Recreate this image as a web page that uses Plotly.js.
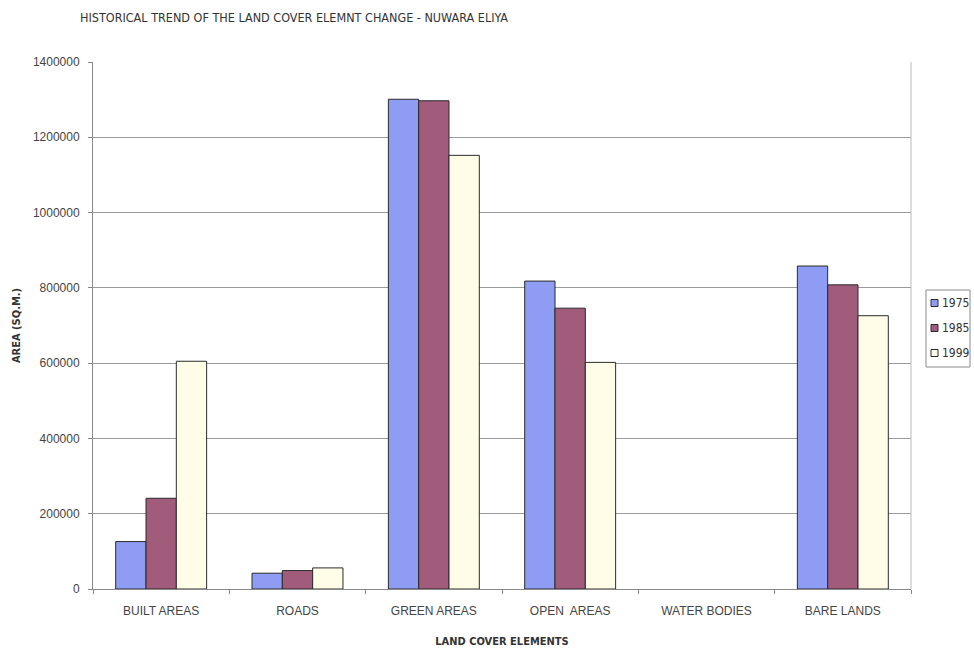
<!DOCTYPE html>
<html>
<head>
<meta charset="utf-8">
<script src="https://cdn.plot.ly/plotly-3.0.1.min.js"></script>
<style>
  html, body { margin: 0; padding: 0; background: #ffffff; }
  #chart { width: 974px; height: 648px; }
</style>
</head>
<body>
<div id="chart"></div>
<script>
// Land cover elements of Nuwara Eliya, area in square metres
const categories = ["BUILT AREAS", "ROADS", "GREEN AREAS", "OPEN  AREAS", "WATER BODIES", "BARE LANDS"];
const years = ["1975", "1985", "1999"];
const area1975 = [126000, 42000, 1301000, 818000, 0, 858000];
const area1985 = [241000, 49000, 1297000, 746000, 0, 808000];
const area1999 = [605000, 56000, 1152000, 602000, 0, 726000];
const yTicks = [0, 200000, 400000, 600000, 800000, 1000000, 1200000, 1400000];

const seriesValues = [area1975, area1985, area1999];
const fills = ["#8e9cf4", "#a05c7a", "#fffde8"];
const outline = "#2a2a2a";

const narrow = "'DejaVu Sans Condensed', 'Liberation Sans Narrow', 'Liberation Sans', Arial, sans-serif";
const regular = "'Liberation Sans', Arial, sans-serif";

// plot area geometry in page pixels
const W = 974, H = 648;
const M = { l: 93, r: 63, t: 62, b: 59 };
const plotW = W - M.l - M.r, plotH = H - M.t - M.b;
const px = x => (x - M.l) / plotW;          // page x -> paper x
const py = y => (H - M.b - y) / plotH;      // page y -> paper y

const traces = years.map((yr, i) => ({
  type: "bar",
  name: yr,
  x: categories,
  y: seriesValues[i],
  marker: {
    color: fills[i],
    // empty categories get no outline so nothing is drawn on the baseline
    line: { color: outline, width: seriesValues[i].map(v => (v > 0 ? 1 : 0)) }
  },
  hoverinfo: "x+y+name"
}));

// compact boxed key to the right of the plot
const key = { left: 926, right: 970, top: 290, bottom: 367, rowY: [303, 328, 353], sw: 7, swX: 931 };
const shapes = [
  { type: "line", xref: "paper", yref: "paper", x0: 1, x1: 1, y0: 0, y1: 1,
    line: { color: "#bbbbbb", width: 1 } },
  { type: "rect", xref: "paper", yref: "paper",
    x0: px(key.left), x1: px(key.right), y0: py(key.bottom), y1: py(key.top),
    line: { color: "#8a8a8a", width: 1 }, fillcolor: "#ffffff" }
];
const annotations = [];
years.forEach((yr, i) => {
  const cy = key.rowY[i];
  shapes.push({
    type: "rect", xref: "paper", yref: "paper",
    x0: px(key.swX), x1: px(key.swX + key.sw),
    y0: py(cy + key.sw / 2), y1: py(cy - key.sw / 2),
    line: { color: outline, width: 1 }, fillcolor: fills[i]
  });
  annotations.push({
    xref: "paper", yref: "paper", x: px(key.swX + key.sw + 2), y: py(cy),
    xanchor: "left", yanchor: "middle", showarrow: false,
    text: yr, font: { family: narrow, size: 12, color: "#333333" }
  });
});

const layout = {
  width: W,
  height: H,
  paper_bgcolor: "#ffffff",
  plot_bgcolor: "#ffffff",
  margin: { l: M.l, r: M.r, t: M.t, b: M.b, autoexpand: false },
  barmode: "group",
  bargap: 0.333,
  bargroupgap: 0,
  showlegend: false,
  title: {
    text: "HISTORICAL TREND OF THE LAND COVER ELEMNT CHANGE - NUWARA ELIYA",
    font: { family: narrow, size: 12.5, color: "#333333" },
    x: 80 / W, xanchor: "left", xref: "container",
    y: 1 - 18 / H, yanchor: "middle", yref: "container"
  },
  xaxis: {
    type: "category",
    tickfont: { family: regular, size: 12, color: "#444444" },
    ticks: "outside",
    tickson: "boundaries",
    ticklen: 4,
    tickcolor: "#888888",
    ticklabelstandoff: 11,
    showline: true,
    linecolor: "#888888",
    linewidth: 1,
    showgrid: false,
    automargin: false,
    title: {
      text: "<b>LAND COVER ELEMENTS</b>",
      font: { family: narrow, size: 11, color: "#333333" },
      standoff: 22
    }
  },
  yaxis: {
    range: [0, 1400000],
    tickvals: yTicks,
    ticktext: yTicks.map(v => String(v)),
    tickfont: { family: regular, size: 12, color: "#444444" },
    ticks: "outside",
    ticklen: 4,
    tickcolor: "#888888",
    ticklabelstandoff: 6,
    showline: true,
    linecolor: "#888888",
    linewidth: 1,
    showgrid: true,
    gridcolor: "#9a9a9a",
    gridwidth: 1,
    zeroline: false,
    automargin: false,
    title: {
      text: "<b>AREA (SQ.M.)</b>",
      font: { family: narrow, size: 11, color: "#333333" },
      standoff: 10
    }
  },
  shapes: shapes,
  annotations: annotations
};

Plotly.newPlot("chart", traces, layout, { displayModeBar: false, staticPlot: true });
</script>
</body>
</html>
